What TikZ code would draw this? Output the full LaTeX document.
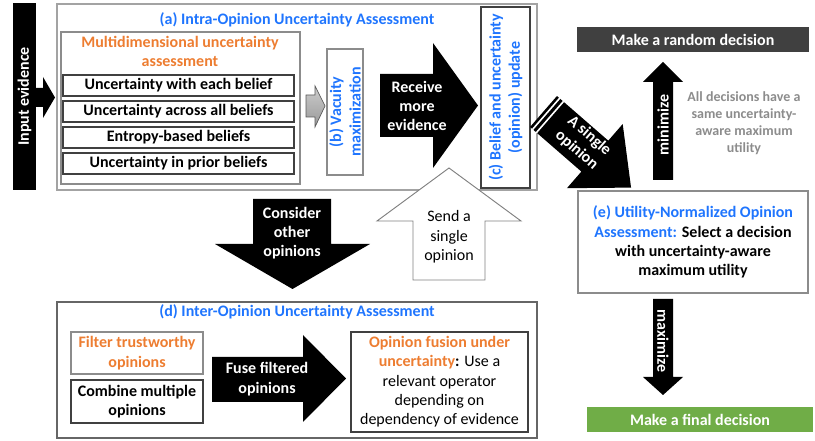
\documentclass[tikz,border=0pt]{standalone}
\usepackage{fontspec}
\setmainfont{Carlito}
\usepackage{xcolor}
\usepackage{tikz}
\usetikzlibrary{calc}
\definecolor{optblue}{HTML}{1F75FE}
\definecolor{optorange}{HTML}{ED7D31}
\definecolor{notegray}{HTML}{8C8C8C}
\definecolor{boxgray}{HTML}{8C8C8C}
\definecolor{boxdark}{HTML}{404040}
\definecolor{randgray}{HTML}{404040}
\definecolor{finalgreen}{HTML}{70AD47}

\begin{document}
\begin{tikzpicture}[x=0.75pt,y=-0.75pt]
\tikzstyle{txt}       = [font=\fontsize{12}{14.5}\selectfont\bfseries, align=center, inner sep=0pt]
\tikzstyle{plaintxt}  = [font=\fontsize{12}{14.5}\selectfont, align=center, inner sep=0pt]
\tikzstyle{arrowtext} = [txt, text=white]
\tikzstyle{title}     = [txt, text=optblue]
\tikzstyle{box}       = [txt, draw=boxgray, line width=0.8pt]
\tikzstyle{beliefbox} = [txt, draw=boxdark, line width=0.8pt, minimum width=173.25pt, minimum height=15.75pt]
\tikzstyle{note}      = [font=\fontsize{10.5}{12.75}\selectfont\bfseries, align=center, inner sep=0pt, text=notegray]
\useasboundingbox (0,0) rectangle (815,441);
 %%Input
\node [txt, rotate=90, fill=black, text=white, minimum width=140.25pt, minimum height=17.25pt](input) at (24.5, 96.5) {Input evidence};
\fill (36, 88) -- (43, 88) -- (43, 77) -- (55, 97.5) -- (43, 118) -- (43, 107) -- (36, 107) -- cycle;
 %%Intra-opinion block
\draw [draw=boxgray!80, line width=1.2pt] (57, 4) rectangle (537, 190);
\node [title](atitle) at (297, 20) {(a) Intra-Opinion Uncertainty Assessment};
\draw [draw=boxgray, line width=0.8pt] (61, 32) rectangle (300, 184);
\node [txt, text=optorange](mtitle) at (180, 51.5) {Multidimensional uncertainty\\assessment};
\node [beliefbox](u1) at (178.5, 85.5) {Uncertainty with each belief};
\node [beliefbox](u2) at (178.5, 111.5) {Uncertainty across all beliefs};
\node [beliefbox](u3) at (178.5, 137.5) {Entropy-based beliefs};
\node [beliefbox](u4) at (178.5, 163.5) {Uncertainty in prior beliefs};
\shade [top color=gray!40, bottom color=gray!80, draw=gray!70!black, line width=0.5pt] (306, 95) -- (315, 95) -- (315, 86) -- (325, 106) -- (315, 127) -- (315, 117) -- (306, 117) -- cycle;
\node [box, rotate=90, text=optblue, minimum width=94.5pt, minimum height=27pt](vac) at (345, 112) {(b) Vacuity\\maximization};
\fill (380, 74) -- (433, 74) -- (433, 43) -- (478, 105.5) -- (433, 168) -- (433, 137) -- (380, 137) -- cycle;
\node [arrowtext](recv) at (417, 106) {Receive\\more\\evidence};
\node [box, draw=boxdark, rotate=90, text=optblue, minimum width=135.75pt, minimum height=36.75pt](upd) at (505.5, 97.5) {(c) Belief and uncertainty\\(opinion) update};
 %%Towards decision
\begin{scope}[shift={(543.5, 111.5)}, rotate=-41]
\fill (0, -20.5) -- (68, -20.5) -- (68, -42.5) -- (116, 0) -- (68, 42.5) -- (68, 20.5) -- (0, 20.5) -- cycle;
\draw [white, line width=1.2pt] (3.5, -21) -- (3.5, 21);
\draw [white, line width=1.2pt] (8.5, -21) -- (8.5, 21);
\end{scope}
\node [arrowtext, rotate=-41](single) at (583, 143) {A single\\opinion};
\node [txt, fill=randgray, text=white, minimum width=174pt, minimum height=18.75pt](rand) at (693, 39.5) {Make a random decision};
\fill (653, 180) -- (653, 82) -- (643, 82) -- (663, 62) -- (683, 82) -- (673, 82) -- (673, 180) -- cycle;
\node [arrowtext, rotate=90](mini) at (663, 125) {minimize};
\node [note](same) at (744, 123) {All decisions have a\\same uncertainty-\\aware maximum\\utility};
\node [box, minimum width=172.5pt, minimum height=76.5pt](util) at (693, 242) {\textcolor{optblue}{(e) Utility-Normalized Opinion}\\\textcolor{optblue}{Assessment:} Select a decision\\with uncertainty-aware\\maximum utility};
\fill (653, 299) -- (673, 299) -- (673, 377) -- (683, 377) -- (663, 395) -- (643, 377) -- (653, 377) -- cycle;
\node [arrowtext, rotate=-90](maxi) at (663, 341) {maximize};
\node [txt, fill=finalgreen, text=white, minimum width=169.5pt, minimum height=18.75pt](final) at (700, 419.5) {Make a final decision};
 %%Between the blocks
\fill (253, 199) -- (331, 199) -- (331, 244) -- (370, 244) -- (292.5, 289) -- (215, 244) -- (253, 244) -- cycle;
\node [arrowtext](cons) at (292, 233) {Consider\\other\\opinions};
\draw [draw=gray, fill=white, line width=0.7pt] (413, 280) -- (413, 221) -- (377, 221) -- (449, 168) -- (521, 221) -- (485, 221) -- (485, 280) -- cycle;
\node [plaintxt](send) at (449, 237) {Send a\\single\\opinion};
 %%Inter-opinion block
\draw [draw=boxdark!80, line width=0.8pt] (57, 302) rectangle (537, 438);
\node [title](dtitle) at (297, 312) {(d) Inter-Opinion Uncertainty Assessment};
\node [box, text=optorange, minimum width=99pt, minimum height=31.5pt](filt) at (137, 353) {Filter trustworthy\\opinions};
\node [box, draw=boxdark, minimum width=99pt, minimum height=32.25pt](comb) at (137, 401.5) {Combine multiple\\opinions};
\fill (212, 357) -- (303, 357) -- (303, 335) -- (346, 378.5) -- (303, 422) -- (303, 402) -- (212, 402) -- cycle;
\node [arrowtext](fuse) at (267, 379) {Fuse filtered\\opinions};
\node [box, plaintxt, draw=boxdark, minimum width=132.75pt, minimum height=75pt](fusion) at (439.5, 382) {\textcolor{optorange}{\textbf{Opinion fusion under}}\\\textcolor{optorange}{\textbf{uncertainty}}\textbf{:} Use a\\relevant operator\\depending on\\dependency of evidence};
\end{tikzpicture}
\end{document}
